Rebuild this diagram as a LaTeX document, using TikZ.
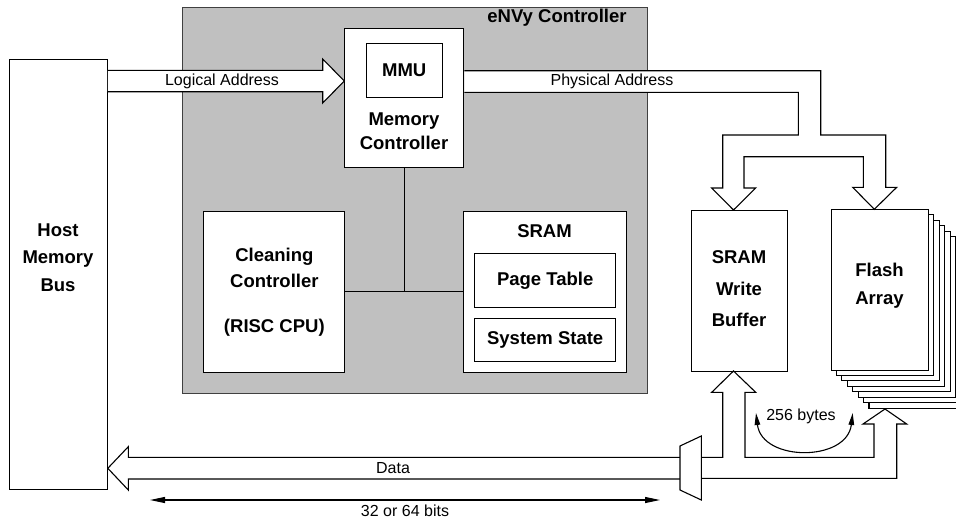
\documentclass[tikz,border=0pt]{standalone}
\usepackage{fontspec}
\setmainfont{Liberation Sans}
\usetikzlibrary{positioning,calc,arrows.meta}
\definecolor{envygray}{RGB}{192,192,192}

\begin{document}
\begin{tikzpicture}[x=1pt,y=-1pt,
    unit/.style={draw, fill=white, line width=1.1pt, inner sep=0pt, anchor=north west,
      align=center, font=\bfseries\fontsize{18.5}{26}\selectfont},
    title/.style={font=\bfseries\fontsize{18.5}{24}\selectfont, align=center},
    buslabel/.style={font=\fontsize{16}{19}\selectfont},
    bus/.style={draw, fill=white, line width=1.1pt, line join=miter},
    wire/.style={draw, line width=1.1pt}
  ]
  \useasboundingbox (0,0) rectangle (956,520);

  % the controller chip
  \node[unit, fill=envygray, draw=black!75, minimum width=465pt, minimum height=386pt] (envy) at (182,7) {};
  \node[title] (envytitle) at (557,18) {eNVy Controller};

  \node[unit, minimum width=119pt, minimum height=139pt] (mc) at (344.3,28.3) {};
  \node[unit, minimum width=76pt, minimum height=53.4pt] (mmu) at (365.7,43.3) {MMU};
  \node[title] (mctext) at (404,131) {Memory\\Controller};

  \node[unit, minimum width=141pt, minimum height=161pt] (cc) at (203.3,210.7)
    {Cleaning\\Controller\\[19pt](RISC CPU)};

  \node[unit, minimum width=162.4pt, minimum height=161pt] (sram) at (463.3,210.7) {};
  \node[title] (sramtext) at (544.5,231.5) {SRAM};
  \node[unit, minimum width=140.7pt, minimum height=54pt] (ptab) at (474.3,253.3) {Page Table};
  \node[unit, minimum width=140.7pt, minimum height=43pt] (sstate) at (474.3,317.7) {System State};

  \coordinate (jn) at (mc.south |- 0,291.7);
  \draw[wire] (mc.south) -- (jn);
  \draw[wire] (cc.east |- jn) -- (sram.west |- jn);

  % host side and memories
  \node[unit, minimum width=97.7pt, minimum height=429.7pt] (host) at (9,59.3) {};
  \node[title, font=\bfseries\fontsize{18.5}{27.5}\selectfont] (hosttext) at (58,257.7) {Host\\Memory\\Bus};
  \node[unit, minimum width=96.6pt, minimum height=161pt] (wb) at (690.7,210) {};
  \node[title, font=\bfseries\fontsize{18.5}{31.5}\selectfont] (wbtext) at (739,289) {SRAM\\Write\\Buffer};
  \foreach \k in {7,6,...,1}
    \draw[line width=1.1pt, fill=white] (830.7+5.47*\k, 209.3+5.47*\k) rectangle +(97.6,160.7);
  \node[unit, minimum width=97.6pt, minimum height=160.7pt] (flash) at (830.7,209.3) {};
  \node[title, font=\bfseries\fontsize{18.5}{27.6}\selectfont] (flashtext) at (879.5,285.5) {Flash\\Array};

  % address buses
  \draw[bus] (host.east |- 0,70.3) -- (322.7,70.3) -- (322.7,59) -- (mc.west |- 0,81)
    -- (322.7,103) -- (322.7,91.7) -- (host.east |- 0,91.7);
  \node[buslabel] (la) at (222,81) {Logical Address};

  \draw[bus] (mc.east |- 0,70.7) -- (820.7,70.7) -- (820.7,135) -- (885.7,135) -- (885.7,187.3)
    -- (896.7,187.3) -- (874.3,209.3) -- (852.7,187.3) -- (863.3,187.3) -- (863.3,156.7)
    -- (744,156.7) -- (744,188) -- (755.7,188) -- (733.5,210) -- (711.7,188) -- (722.7,188)
    -- (722.7,135) -- (798.3,135) -- (798.3,92.3) -- (mc.east |- 0,92.3);
  \node[buslabel] (pa) at (612,81) {Physical Address};

  % data bus
  \draw[bus] (701.3,457.3) -- (722.7,457.3) -- (722.7,392.3) -- (711.7,392.3) -- (733.5,371)
    -- (755.7,392.3) -- (745,392.3) -- (745,457.3) -- (874,457.3) -- (874,424) -- (863,424)
    -- (885,409) -- (906.7,424) -- (896.7,424) -- (896.7,478.3) -- (701.3,478.3);
  \draw[bus] (680,457.3) -- (128.3,457.3) -- (128.3,446.7) -- (host.east |- 0,468.3)
    -- (128.3,490) -- (128.3,479) -- (680,479);
  \draw[bus] (680,446) -- (701.3,436) -- (701.3,500) -- (680,490) -- cycle;
  \node[buslabel] (data) at (393,468) {Data};

  \draw[wire, {Triangle[length=12pt,width=5.5pt]}-{Triangle[length=12pt,width=5.5pt]}]
    (756,413) .. controls (762,462) and (847,462) .. (852.7,413);
  \node[buslabel] (bytes) at (801,416) {256 bytes};

  \draw[wire, {Triangle[length=15pt,width=6pt]}-{Triangle[length=15pt,width=6pt]}] (150,500) -- (660,500);
  \node[buslabel] (width) at (405,511) {32 or 64 bits};
\end{tikzpicture}
\end{document}
